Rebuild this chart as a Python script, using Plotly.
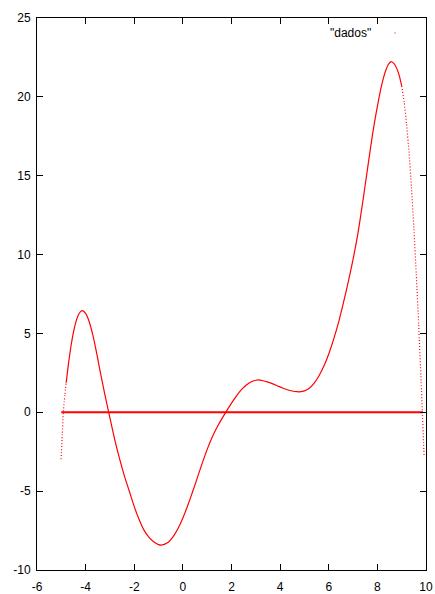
import plotly.graph_objects as go

# Curve values
curve_x = [-5.01, -4.96, -4.92, -4.88, -4.85, -4.80, -4.70, -4.60, -4.50, -4.40,
           -4.30, -4.20, -4.14, -4.00, -3.90, -3.80, -3.70, -3.60, -3.50, -3.40,
           -3.30, -3.20, -3.10, -3.00, -2.80, -2.60, -2.40, -2.20, -2.00, -1.80,
           -1.60, -1.40, -1.20, -1.00, -0.88, -0.60, -0.40, -0.20, 0.00, 0.20,
           0.40, 0.60, 0.80, 1.00, 1.20, 1.40, 1.60, 1.80, 2.00, 2.20,
           2.40, 2.60, 2.80, 3.00, 3.10, 3.30, 3.50, 3.70, 3.90, 4.10,
           4.30, 4.50, 4.70, 4.80, 5.00, 5.20, 5.40, 5.60, 5.80, 6.00,
           6.20, 6.40, 6.60, 6.80, 7.00, 7.20, 7.40, 7.60, 7.80, 8.00,
           8.20, 8.35, 8.45, 8.565, 8.70, 8.80, 8.90, 9.00, 9.10, 9.20,
           9.30, 9.40, 9.50, 9.60, 9.70, 9.80, 9.85, 9.90, 9.92]
curve_y = [-2.98, -1.45, -0.05, 0.65, 1.12, 1.87, 3.15, 4.22, 5.08, 5.73,
           6.17, 6.40, 6.44, 6.27, 5.95, 5.47, 4.87, 4.16, 3.38, 2.58,
           1.81, 1.06, 0.34, -0.36, -1.75, -2.97, -4.06, -5.02, -5.98, -6.80,
           -7.47, -7.91, -8.21, -8.39, -8.42, -8.24, -7.89, -7.37, -6.70, -5.91,
           -5.04, -4.13, -3.21, -2.35, -1.60, -0.97, -0.42, 0.09, 0.58, 1.03,
           1.42, 1.71, 1.92, 2.03, 2.05, 2.00, 1.91, 1.80, 1.67, 1.54,
           1.43, 1.35, 1.305, 1.30, 1.36, 1.53, 1.85, 2.32, 2.93, 3.70,
           4.62, 5.68, 6.92, 8.25, 9.70, 11.35, 13.35, 15.50, 17.60, 19.40,
           20.90, 21.70, 22.05, 22.23, 22.08, 21.79, 21.35, 20.69, 19.69, 18.29,
           16.49, 14.29, 11.69, 8.74, 5.49, 1.94, 0.04, -1.94, -2.74]

# Zero line drawn by the same data file
zero_x = [-5.0, 9.88]
zero_y = [0.0, 0.0]

# x limits where the sampled dots are dense enough to look like a solid line
dense_from, dense_to = -4.80, 9.00

x_ticks = [-6, -4, -2, 0, 2, 4, 6, 8, 10]
y_ticks = [-10, -5, 0, 5, 10, 15, 20, 25]
legend_label = '"dados"'

RED = "#ff0000"

fig = go.Figure()
fig.add_trace(go.Scatter(x=zero_x, y=zero_y, mode="lines",
                         line=dict(color=RED, width=2), showlegend=False,
                         hoverinfo="skip"))

pairs = list(zip(curve_x, curve_y))
left = [(x, y) for x, y in pairs if x <= dense_from]
mid = [(x, y) for x, y in pairs if dense_from <= x <= dense_to]
right = [(x, y) for x, y in pairs if x >= dense_to]

for seg, dash, width in ((left, "1px,2px", 1.2), (mid, "solid", 1.2), (right, "1px,2px", 1.2)):
    fig.add_trace(go.Scatter(x=[p[0] for p in seg], y=[p[1] for p in seg], mode="lines",
                             line=dict(color=RED, width=width, shape="spline",
                                       smoothing=0.6, dash=dash),
                             showlegend=False))

axis_common = dict(
    showgrid=False, zeroline=False, showline=True, linecolor="#000000", linewidth=1,
    mirror="allticks", ticks="inside", ticklen=6, tickwidth=1, tickcolor="#000000",
    automargin=False,
    tickfont=dict(family="Liberation Sans, Arial, sans-serif", size=12, color="#000000"),
)

fig.update_xaxes(range=[-6, 10], tickvals=x_ticks, ticktext=[str(v) for v in x_ticks],
                 ticklabelstandoff=6, **axis_common)
fig.update_yaxes(range=[-10, 25], tickvals=y_ticks, ticktext=[str(v) for v in y_ticks],
                 ticklabelstandoff=3, **axis_common)

L, R, T, B = 37, 9, 18, 24
W, H = 435, 594
pw, ph = W - L - R, H - T - B

def px_x(p):
    return (p - L) / pw

def px_y(p):
    return (H - B - p) / ph

fig.add_annotation(xref="paper", yref="paper", x=px_x(373), y=px_y(33),
                   xanchor="right", yanchor="middle", showarrow=False,
                   text=legend_label,
                   font=dict(family="Liberation Sans, Arial, sans-serif", size=12, color="#000000"))
fig.add_shape(type="rect", xref="paper", yref="paper",
              x0=px_x(394.5), x1=px_x(395.6), y0=px_y(33.6), y1=px_y(32.5),
              line=dict(width=0), fillcolor=RED)

fig.update_layout(width=W, height=H, margin=dict(l=L, r=R, t=T, b=B),
                  plot_bgcolor="white", paper_bgcolor="white", showlegend=False)

fig.write_html("out.html")
